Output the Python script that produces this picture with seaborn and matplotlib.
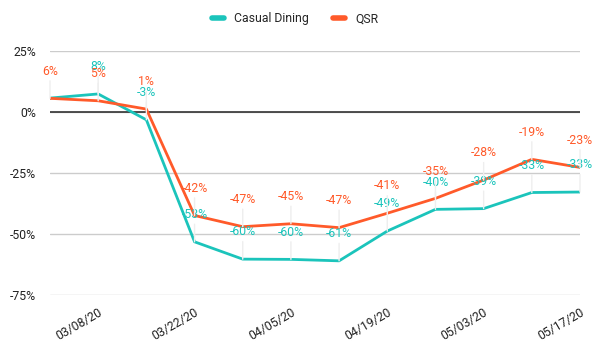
import matplotlib.pyplot as plt
import pandas as pd
import seaborn as sns

weeks = ["03/01/20", "03/08/20", "03/15/20", "03/22/20", "03/29/20", "04/05/20",
         "04/12/20", "04/19/20", "04/26/20", "05/03/20", "05/10/20", "05/17/20"]
casual_dining = [5.7, 7.4, -3.2, -53.2, -60.3, -60.4, -61.0, -48.8, -39.9, -39.6, -33.0, -32.8]
qsr = [5.6, 4.6, 1.2, -42.4, -47.0, -45.8, -47.4, -41.5, -35.4, -27.9, -19.4, -22.7]
casual_labels = [None, "8%", "-3%", "-53%", "-60%", "-60%", "-61%", "-49%", "-40%", "-39%", "-33%", "-33%"]
qsr_labels = ["6%", "5%", "1%", "-42%", "-47%", "-45%", "-47%", "-41%", "-35%", "-28%", "-19%", "-23%"]
tick_weeks = ["03/08/20", "03/22/20", "04/05/20", "04/19/20", "05/03/20", "05/17/20"]

TEAL = "#1bc4bb"
ORANGE = "#ff5a2a"

sns.set_style("white")
plt.rcParams["font.family"] = ["Roboto", "DejaVu Sans"]

df = pd.DataFrame({
    "week": list(range(len(weeks))) * 2,
    "value": casual_dining + qsr,
    "series": ["Casual Dining"] * len(weeks) + ["QSR"] * len(weeks),
})

fig = plt.figure(figsize=(6, 3.52), dpi=100)
ax = fig.add_axes([50 / 600, 1 - 295 / 352, 530 / 600, 244 / 352])

sns.lineplot(data=df, x="week", y="value", hue="series",
             palette={"Casual Dining": TEAL, "QSR": ORANGE}, linewidth=2, ax=ax)

for i in range(len(weeks)):
    for vals, labels, color in ((casual_dining, casual_labels, TEAL), (qsr, qsr_labels, ORANGE)):
        if labels[i] is None:
            continue
        ax.annotate(labels[i], xy=(i, vals[i]), xytext=(0, 15), textcoords="offset points",
                    ha="center", va="bottom", fontsize=8.8, color=color, zorder=6,
                    arrowprops=dict(arrowstyle="-", color="#eeeeee", lw=1, shrinkA=0, shrinkB=0))

ax.set_xlim(0, len(weeks) - 1)
ax.set_ylim(-75, 25)
ax.set_yticks([-75, -50, -25, 0, 25])
ax.set_yticklabels([f"{v}%" for v in [-75, -50, -25, 0, 25]])
ax.set_xticks([weeks.index(w) for w in tick_weeks])
ax.set_xticklabels(tick_weeks, rotation=30, ha="right", rotation_mode="anchor")
ax.tick_params(axis="both", length=0, labelsize=8.8, labelcolor="#222222")
ax.tick_params(axis="x", pad=8)
ax.tick_params(axis="y", pad=10)
ax.set_xlabel("")
ax.set_ylabel("")
ax.grid(axis="y", color="#cccccc", linewidth=1)
ax.axhline(0, color="#333333", linewidth=1.2, zorder=1)
for s in ax.spines.values():
    s.set_visible(False)

ax.legend(loc="lower center", bbox_to_anchor=(0.5 - 20 / 530, 1.06), ncol=2, frameon=False,
          fontsize=8.8, handlelength=1.0, handletextpad=0.8, columnspacing=2.0)
for line in ax.get_legend().get_lines():
    line.set_linewidth(4)

fig.savefig("out.png", dpi=100)
